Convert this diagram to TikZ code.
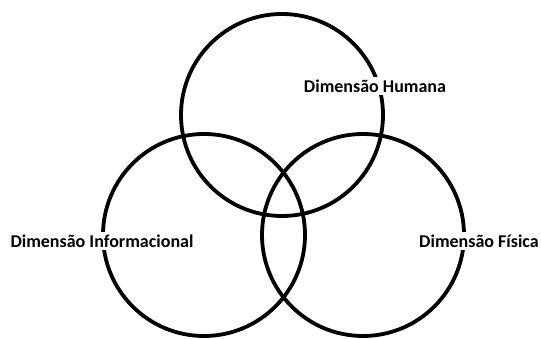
\documentclass[tikz,border=0pt]{standalone}
\usepackage{fontspec}
\setmainfont{Carlito}
\begin{document}
\begin{tikzpicture}[x=1pt,y=1pt,
  ring/.style={draw=black,line width=3.8pt},
  dimlabel/.style={fill=white,inner xsep=1pt,inner ysep=3pt,font=\fontsize{18}{21}\selectfont\bfseries}]
\useasboundingbox (0,0) rectangle (541,339);
\draw[ring] (282,224) circle (101);
\draw[ring] (204,104) circle (101);
\draw[ring] (363,104) circle (101);
\node[dimlabel] (hum) at (375,253) {Dimensão Humana};
\node[dimlabel] (inf) at (102,98) {Dimensão Informacional};
\node[dimlabel] (fis) at (479,98) {Dimensão Física};
\end{tikzpicture}
\end{document}
